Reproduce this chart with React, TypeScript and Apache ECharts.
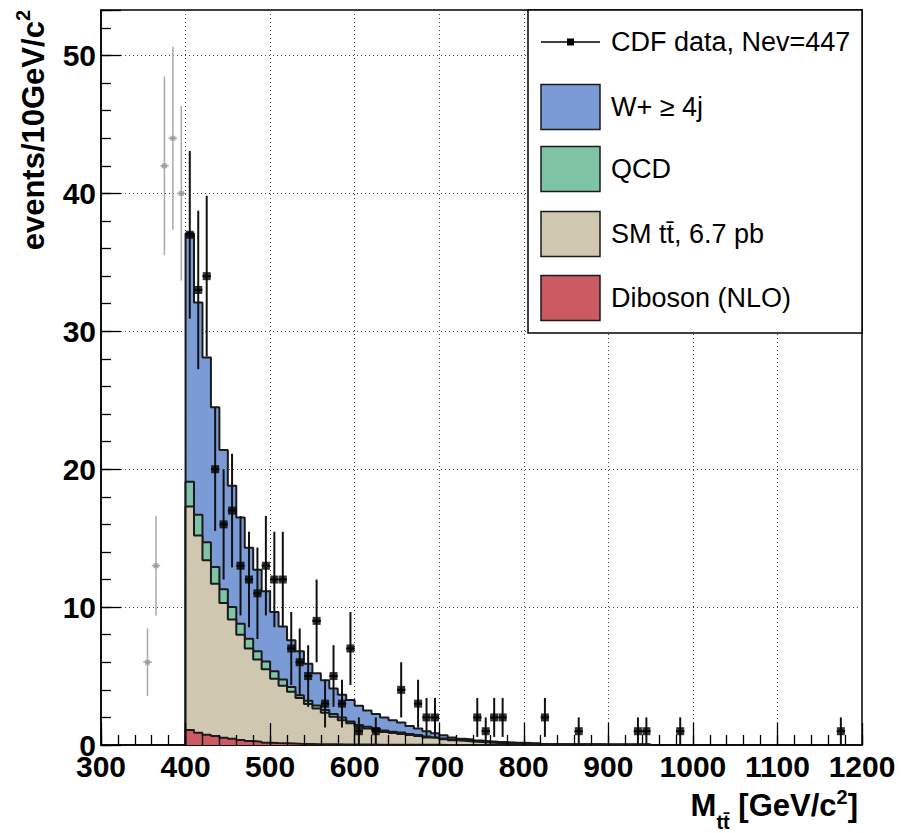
import React, { useEffect, useRef } from "react";
import * as echarts from "echarts";

// ---------------- data ----------------
const binStart = 400;
const binWidth = 10;

// per-bin expectation of each component (events / 10 GeV), bins from 400 GeV
const wjets = [18.0, 15.4, 13.4, 11.6, 10.1, 8.8, 7.7, 6.6, 5.9, 5.1, 4.3, 3.85, 3.4, 3.2, 2.7, 2.33, 2.16, 1.85, 1.65, 1.56, 1.4, 1.17, 1.05, 0.95, 0.83, 0.74, 0.58, 0.48, 0.38, 0.3, 0.23, 0.15, 0.1, 0.1, 0.08, 0.08, 0.07, 0.07, 0.06, 0.06, 0.05, 0.05, 0.01, 0.01, 0.01, 0.01, 0.01, 0.01, 0.01, 0.01, 0.01, 0.01, 0.01, 0.01, 0.01];
const qcd = [1.8, 1.5, 1.3, 1.2, 1.0, 0.9, 0.8, 0.7, 0.6, 0.55, 0.55, 0.45, 0.34, 0.2, 0.23, 0.22, 0.2, 0.2, 0.2, 0.13, 0.1, 0.13, 0.1, 0.1, 0.09, 0.1, 0.08, 0.07, 0.07, 0.05, 0.05, 0.05, 0.05, 0.04, 0.03, 0.02, 0.02, 0.02, 0.02, 0.02, 0.02, 0.02, 0.01, 0.01, 0.01, 0.01, 0.01, 0.01, 0.01, 0.01, 0.01, 0.01, 0.01, 0.01, 0.01];
const ttbar = [16.2, 14.3, 12.65, 11.05, 9.77, 8.64, 7.64, 6.71, 5.96, 5.33, 4.66, 4.18, 3.76, 3.32, 2.9, 2.59, 2.29, 2.0, 1.76, 1.53, 1.32, 1.17, 1.08, 0.93, 0.86, 0.79, 0.71, 0.64, 0.54, 0.49, 0.42, 0.35, 0.3, 0.26, 0.22, 0.18, 0.15, 0.12, 0.1, 0.08, 0.07, 0.06, 0.04, 0.04, 0.03, 0.03, 0.03, 0.03, 0.03, 0.02, 0.02, 0.02, 0.02, 0.02, 0.02];
const diboson = [1.09, 0.89, 0.75, 0.65, 0.53, 0.46, 0.36, 0.29, 0.24, 0.17, 0.14, 0.12, 0.1, 0.08, 0.07, 0.06, 0.05, 0.05, 0.04, 0.04, 0.03, 0.03, 0.02, 0.02, 0.01, 0.01, 0.01, 0.01, 0.01, 0.01, 0, 0, 0, 0, 0, 0, 0, 0, 0, 0, 0, 0, 0, 0, 0, 0, 0, 0, 0, 0, 0, 0, 0, 0, 0];

// CDF data (bin centres, counts) above the 400 GeV cut
const dataMass = [405, 415, 425, 435, 445, 455, 465, 475, 485, 495, 505, 515, 525, 535, 545, 555, 565, 575, 585, 595, 605, 625, 655, 675, 685, 695, 745, 755, 765, 775, 825, 865, 935, 945, 985, 1175];
const dataCounts = [37, 33, 34, 20, 16, 17, 13, 12, 11, 13, 12, 12, 7, 6, 5, 9, 3, 5, 3, 7, 1, 1, 4, 3, 2, 2, 2, 1, 2, 2, 2, 1, 1, 1, 1, 1];
// data below the cut (grey)
const lowMass = [355, 365, 375, 385, 395];
const lowCounts = [6, 13, 42, 44, 40];

const legendLabels = ["CDF data, Nev=447", "W+ \u2265 4j", "QCD", "SM tt\u0304, 6.7 pb", "Diboson (NLO)"];
const colors = { wjets: "#7b9bd6", qcd: "#7fc4a5", ttbar: "#cfc7b0", diboson: "#cc5a62" };

const FONT = "Liberation Sans";

function stepData(level: number[]) {
  const pts: number[][] = [[binStart, 0]];
  level.forEach((v, k) => pts.push([binStart + k * binWidth, v]));
  const end = binStart + level.length * binWidth;
  pts.push([end, level[level.length - 1]]);
  pts.push([end, 0]);
  return pts;
}

function measure(text: string, size: number, weight: string) {
  const ctx = document.createElement("canvas").getContext("2d")!;
  ctx.font = `${weight} ${size}px "${FONT}"`;
  return ctx.measureText(text).width;
}

type Piece = { text: string; size: number; dy: number };

function rightAlignedPieces(pieces: Piece[], weight: string) {
  const widths = pieces.map((p) => measure(p.text, p.size, weight));
  const total = widths.reduce((a, b) => a + b, 0);
  let x = -total;
  return pieces.map((p, i) => {
    const el = {
      type: "text",
      x,
      y: p.dy - 0.36 * p.size,
      style: {
        text: p.text,
        fontSize: p.size,
        fontWeight: weight,
        fontFamily: FONT,
        fill: "#000",
        textAlign: "left",
        textVerticalAlign: "middle",
      },
    };
    x += widths[i];
    return el;
  });
}

export default function App() {
  const ref = useRef<HTMLDivElement>(null);
  useEffect(() => {
    document.body.style.margin = "0";
    const chart = echarts.init(ref.current!, undefined, { renderer: "svg" });

    const lvlRed = diboson.slice();
    const lvlTan = lvlRed.map((v, i) => v + ttbar[i]);
    const lvlGreen = lvlTan.map((v, i) => v + qcd[i]);
    const lvlBlue = lvlGreen.map((v, i) => v + wjets[i]);

    const stepSeries = (name: string, lvl: number[], color: string, z: number) => ({
      name,
      type: "line",
      step: "end",
      data: stepData(lvl),
      showSymbol: false,
      symbol: "none",
      lineStyle: { color: "#1a1a1a", width: 2 },
      areaStyle: { color, opacity: 1, origin: "start" },
      z,
      silent: true,
    });

    const errSeries = (data: number[][], color: string, width: number, z: number) => ({
      type: "custom",
      data,
      z,
      silent: true,
      renderItem: (params: any, api: any) => {
        const x = api.value(0);
        const n = api.value(1);
        const e = Math.sqrt(n);
        const top = api.coord([x, n + e]);
        const bot = api.coord([x, Math.max(0, n - e)]);
        const l = api.coord([x - binWidth / 2, n]);
        const r = api.coord([x + binWidth / 2, n]);
        return {
          type: "group",
          children: [
            { type: "line", shape: { x1: top[0], y1: top[1], x2: bot[0], y2: bot[1] }, style: { stroke: color, lineWidth: width } },
            { type: "line", shape: { x1: l[0], y1: l[1], x2: r[0], y2: r[1] }, style: { stroke: color, lineWidth: width } },
          ],
        };
      },
    });

    const dataPts = dataMass.map((m, i) => [m, dataCounts[i]]);
    const lowPts = lowMass.map((m, i) => [m, lowCounts[i]]);

    const tickLine = { color: "#000", width: 1.3 };
    const xBase = { type: "value", min: 300, max: 1200, position: "bottom", gridIndex: 0 };
    const yBase = { type: "value", min: 0, max: 53.3, position: "left", gridIndex: 0 };
    const labelStyle = { fontSize: 30, fontWeight: "bold", fontFamily: FONT, color: "#000", formatter: (v: number) => String(v) };

    // axis titles
    const xTitle = rightAlignedPieces(
      [
        { text: "M", size: 31, dy: 0 },
        { text: "tt\u0304", size: 20, dy: 12 },
        { text: " [GeV/c", size: 31, dy: 0 },
        { text: "2", size: 20, dy: -13 },
        { text: "]", size: 31, dy: 0 },
      ],
      "bold"
    );
    const yTitle = rightAlignedPieces(
      [
        { text: "events/10GeV/c", size: 31, dy: 0 },
        { text: "2", size: 20, dy: -15 },
      ],
      "bold"
    );

    // legend
    const lx = 528, ly = 10, lw = 334, lh = 323;
    const rowY = [42, 107, 169, 234, 298];
    const boxColors = [colors.wjets, colors.qcd, colors.ttbar, colors.diboson];
    const legendEls: any[] = [
      { type: "rect", shape: { x: lx, y: ly, width: lw, height: lh }, style: { fill: "#fff", stroke: "#000", lineWidth: 1.5 }, z: 100 },
      { type: "line", shape: { x1: 541, y1: rowY[0], x2: 600, y2: rowY[0] }, style: { stroke: "#000", lineWidth: 1.5 }, z: 101 },
      { type: "rect", shape: { x: 567, y: rowY[0] - 3.5, width: 7, height: 7 }, style: { fill: "#000" }, z: 101 },
    ];
    boxColors.forEach((c, i) => {
      legendEls.push({
        type: "rect",
        shape: { x: 541, y: rowY[i + 1] - 22.5, width: 59, height: 45 },
        style: { fill: c, stroke: "#1a1a1a", lineWidth: 1.5 },
        z: 101,
      });
    });
    legendLabels.forEach((t, i) => {
      legendEls.push({
        type: "text",
        x: 611,
        y: rowY[i],
        style: { text: t, fontSize: 27, fontFamily: FONT, fill: "#000", textAlign: "left", textVerticalAlign: "middle" },
        z: 101,
      });
    });

    chart.setOption({
      animation: false,
      backgroundColor: "#fff",
      grid: { left: 101, right: 41, top: 10, bottom: 88, show: true, borderColor: "#000", borderWidth: 1.5, backgroundColor: "transparent" },
      xAxis: [
        {
          ...xBase,
          interval: 100,
          axisLine: { onZero: false, lineStyle: { color: "#000", width: 1.5 } },
          axisTick: { show: false },
          splitLine: { show: true, lineStyle: { color: "#444", type: [1, 3], width: 1 } },
          axisLabel: { ...labelStyle, margin: 6, showMaxLabel: true, showMinLabel: true },
          z: 0,
        },
        {
          ...xBase,
          interval: 20,
          axisLine: { show: false, onZero: false },
          axisTick: { show: true, inside: true, length: 10, lineStyle: tickLine },
          axisLabel: { show: false },
          splitLine: { show: false },
          z: 10,
        },
        {
          ...xBase,
          interval: 100,
          axisLine: { show: false, onZero: false },
          axisTick: { show: true, inside: true, length: 22, lineStyle: tickLine },
          axisLabel: { show: false },
          splitLine: { show: false },
          z: 10,
        },
      ],
      yAxis: [
        {
          ...yBase,
          interval: 10,
          axisLine: { show: true, onZero: false, lineStyle: { color: "#000", width: 1.5 } },
          axisTick: { show: false },
          splitLine: { show: true, lineStyle: { color: "#444", type: [1, 3], width: 1 } },
          axisLabel: { ...labelStyle, margin: 5, showMaxLabel: false },
          z: 0,
        },
        {
          ...yBase,
          interval: 2,
          axisLine: { show: false, onZero: false },
          axisTick: { show: true, inside: true, length: 10, lineStyle: tickLine },
          axisLabel: { show: false },
          splitLine: { show: false },
          z: 10,
        },
        {
          ...yBase,
          interval: 10,
          axisLine: { show: false, onZero: false },
          axisTick: { show: true, inside: true, length: 20, lineStyle: tickLine },
          axisLabel: { show: false },
          splitLine: { show: false },
          z: 10,
        },
      ],
      series: [
        stepSeries("W+ \u2265 4j", lvlBlue, colors.wjets, 2),
        stepSeries("QCD", lvlGreen, colors.qcd, 3),
        stepSeries("SM tt", lvlTan, colors.ttbar, 4),
        stepSeries("Diboson (NLO)", lvlRed, colors.diboson, 5),
        errSeries(lowPts, "#a8a8a8", 1.5, 20),
        {
          type: "scatter",
          data: lowPts,
          symbol: "rect",
          symbolSize: 5,
          itemStyle: { color: "#9a9a9a" },
          z: 21,
          silent: true,
        },
        errSeries(dataPts, "#111", 2, 22),
        {
          name: "CDF data",
          type: "scatter",
          data: dataPts,
          symbol: "rect",
          symbolSize: 8,
          itemStyle: { color: "#000" },
          z: 23,
          silent: true,
        },
      ],
      graphic: [
        { type: "group", x: 858, y: 817, children: xTitle },
        { type: "group", x: 45, y: 10, rotation: Math.PI / 2, children: yTitle },
        ...legendEls,
      ],
    });
    return () => chart.dispose();
  }, []);
  return <div ref={ref} style={{ width: 903, height: 833 }} />;
}
